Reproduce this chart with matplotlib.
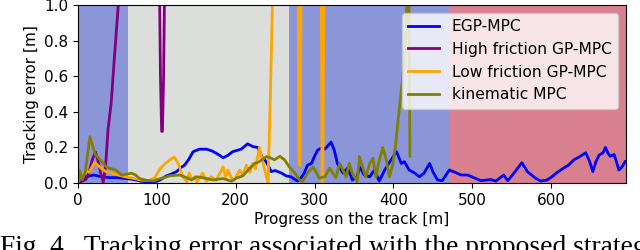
import matplotlib
matplotlib.use("Agg")
import matplotlib.pyplot as plt
import numpy as np

# Background regions (start, end) and colours
regions_start = [0, 63, 268, 471]
regions_end = [63, 268, 471, 700]
region_colors = ["#8a96d8", "#dcdedc", "#8a96d8", "#d98090"]

# EGP-MPC
egp_x = [0, 5, 10, 15, 20, 25, 30, 40, 50, 60, 70, 80, 90, 100, 104, 112, 118, 125, 130, 135,
         140, 146, 154, 163, 170, 178, 184, 190, 196, 207, 215, 222, 228, 234, 237, 241, 245,
         250, 258, 264, 270, 275, 279, 283, 287, 291, 296, 300, 304, 310, 313, 317, 321, 325,
         329, 336, 342, 348, 354, 357, 360, 363, 370, 376, 382, 389, 397, 404, 410, 414, 420,
         427, 433, 439, 446, 450, 456, 462, 466, 471, 477, 486, 494, 503, 511, 519, 523, 530,
         540, 545, 553, 563, 570, 580, 587, 595, 601, 608, 616, 622, 629, 637, 644, 649, 653,
         657, 661, 666, 669, 672, 675, 680, 683, 686, 690, 694]
egp_y = [0.0, 0.02, 0.035, 0.04, 0.045, 0.04, 0.035, 0.03, 0.03, 0.025, 0.02, 0.01, 0.005, 0.01,
         0.017, 0.04, 0.05, 0.064, 0.085, 0.1, 0.13, 0.176, 0.19, 0.19, 0.18, 0.16, 0.142, 0.155,
         0.176, 0.19, 0.22, 0.204, 0.2, 0.14, 0.13, 0.1, 0.064, 0.07, 0.056, 0.04, 0.035, 0.02,
         0.011, 0.03, 0.056, 0.1, 0.11, 0.15, 0.185, 0.2, 0.19, 0.21, 0.23, 0.185, 0.11, 0.056,
         0.084, 0.017, 0.034, 0.09, 0.07, 0.045, 0.035, 0.073, 0.011, 0.073, 0.13, 0.176, 0.11,
         0.12, 0.073, 0.056, 0.035, 0.056, 0.11, 0.064, 0.017, 0.013, 0.04, 0.073, 0.062, 0.045,
         0.045, 0.028, 0.013, 0.017, 0.02, 0.011, 0.045, 0.013, 0.056, 0.114, 0.064, 0.028, 0.011,
         0.017, 0.035, 0.06, 0.084, 0.1, 0.13, 0.15, 0.17, 0.12, 0.064, 0.12, 0.157, 0.17, 0.2,
         0.17, 0.15, 0.16, 0.12, 0.073, 0.09, 0.12]

# High friction GP-MPC
high_x = [0, 5, 10, 14, 18, 22, 25, 29, 32, 35, 38, 42, 46, 51, 55, 80, 103, 104.5, 106, 107,
          108.5, 110, 113]
high_y = [0.0, 0.01, 0.02, 0.06, 0.13, 0.175, 0.13, 0.05, 0.005, 0.1, 0.3, 0.45, 0.7, 1.0, 1.3,
          2.0, 1.2, 0.6, 0.29, 0.29, 0.6, 1.2, 2.0]

# Low friction GP-MPC
low_x = [0, 3, 6, 9, 14, 21, 25, 30, 35, 43, 51, 59, 68, 80, 89, 97, 104, 110, 118, 122, 127,
         133, 138, 141, 144, 148, 151, 158, 163, 169, 175, 182, 184, 187, 190, 194.5, 198, 205,
         209, 213.5, 218, 221.6, 225, 230, 233.7, 239, 241, 244, 247, 260, 279, 280.5, 281.5,
         283, 295, 308.5, 309.5, 310.5, 312]
low_y = [0.0, 0.045, 0.03, 0.07, 0.06, 0.115, 0.1, 0.08, 0.065, 0.055, 0.045, 0.035, 0.028,
         0.017, 0.013, 0.028, 0.08, 0.107, 0.135, 0.146, 0.11, 0.035, 0.007, 0.056, 0.017, 0.035,
         0.005, 0.056, 0.01, 0.035, 0.015, 0.073, 0.09, 0.035, 0.073, 0.028, 0.015, 0.073, 0.045,
         0.1, 0.06, 0.11, 0.08, 0.2, 0.13, 0.035, 0.0, 0.5, 1.1, 2.0, 1.2, 0.1, 0.1, 1.2, 2.0,
         1.2, 0.0, 0.0, 1.2]

# kinematic MPC
kin_x = [0, 2, 5, 9, 15, 19, 22, 28, 36, 42, 47, 55, 62, 68, 73, 78, 87, 95, 105, 116, 129,
         137.6, 144, 150, 158, 171, 184, 194.5, 201, 209, 218, 224, 230, 239, 245, 249, 256, 262,
         268, 275, 281, 285, 291, 298, 302, 306, 313, 319, 323, 327, 332, 336, 340, 344, 348,
         354, 357, 361, 365, 370, 374, 378, 381, 386.5, 391, 395, 399, 403, 405.5, 407.6, 412,
         416, 418, 419.5, 421]
kin_y = [0.0, 0.07, 0.02, 0.06, 0.26, 0.2, 0.16, 0.13, 0.09, 0.08, 0.075, 0.045, 0.05, 0.055,
         0.045, 0.025, 0.015, 0.012, 0.025, 0.04, 0.045, 0.03, 0.017, 0.035, 0.03, 0.017, 0.025,
         0.01, 0.028, 0.04, 0.084, 0.11, 0.12, 0.148, 0.14, 0.13, 0.15, 0.13, 0.09, 0.056, 0.017,
         0.01, 0.056, 0.09, 0.06, 0.028, 0.035, 0.084, 0.056, 0.03, 0.11, 0.073, 0.035, 0.11,
         0.056, 0.007, 0.148, 0.09, 0.035, 0.11, 0.14, 0.035, 0.11, 0.2, 0.13, 0.035, 0.1, 0.22,
         0.335, 0.42, 0.6, 0.85, 1.2, 1.2, 0.15]

labels = ["EGP-MPC", "High friction GP-MPC", "Low friction GP-MPC", "kinematic MPC"]
colors = ["blue", "purple", "orange", "olive"]

fig = plt.figure(figsize=(6.4, 2.5), dpi=100)
ax = fig.add_axes([0.122, 0.268, 0.856, 0.712])

for s, e, c in zip(regions_start, regions_end, region_colors):
    ax.axvspan(s, e, color=c, lw=0, zorder=0)

series = [(egp_x, egp_y), (high_x, high_y), (low_x, low_y), (kin_x, kin_y)]
for (xs, ys), lab, col in zip(series, labels, colors):
    ax.plot(xs, ys, color=col, lw=2, label=lab)

ax.set_xlim(0, 695)
ax.set_ylim(0, 1.0)
ax.set_xticks([0, 100, 200, 300, 400, 500, 600])
ax.set_yticks([0.0, 0.2, 0.4, 0.6, 0.8, 1.0])
ax.tick_params(labelsize=11)
ax.set_xlabel("Progress on the track [m]", fontsize=11, labelpad=3)
ax.set_ylabel("Tracking error [m]", fontsize=11)
ax.legend(loc="upper right", fontsize=11.2)

fig.text(0.0, -0.016, "Fig. 4.  Tracking error associated with the proposed strategy",
         family="Liberation Serif", fontsize=19.8, va="baseline", ha="left")

fig.savefig("out.png", dpi=100)
